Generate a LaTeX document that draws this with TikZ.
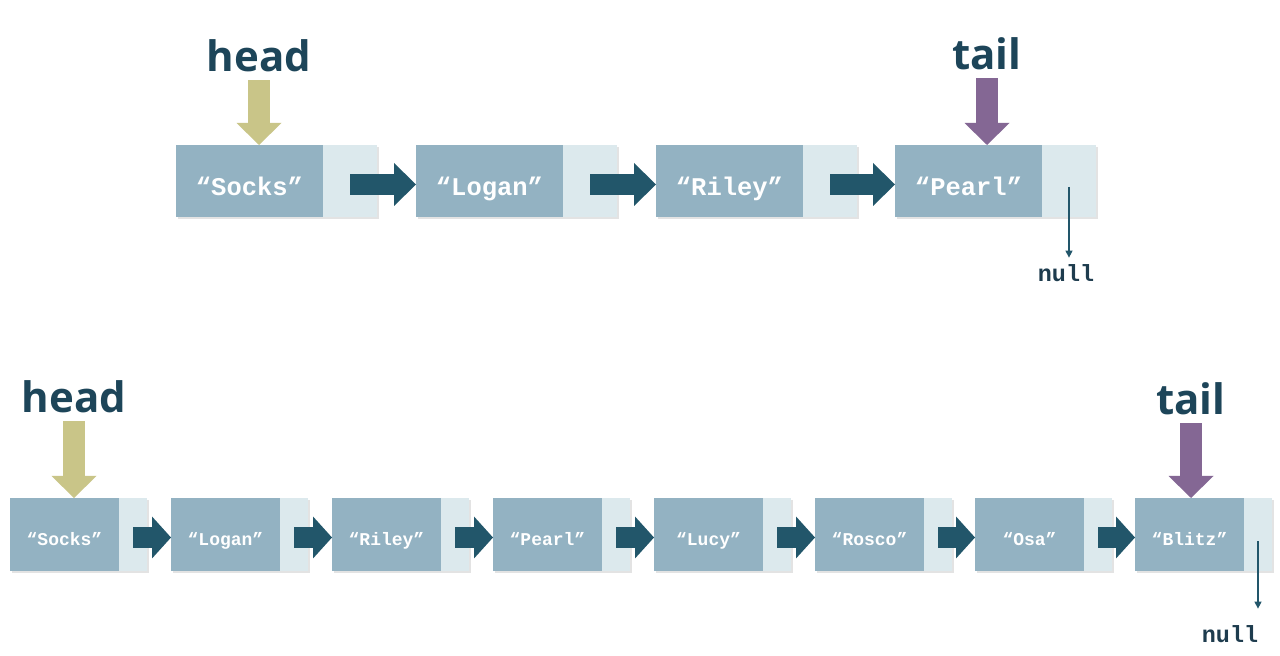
\documentclass[tikz,border=0pt]{standalone}
\usepackage{fontspec}
\newfontfamily\labelfont{Open Sans}
\newfontfamily\codefont{Liberation Mono}
\usetikzlibrary{arrows.meta, shadows}

\definecolor{valblue}{HTML}{93B2C2}
\definecolor{nextblue}{HTML}{DCE9ED}
\definecolor{linkteal}{HTML}{22566A}
\definecolor{headolive}{HTML}{C9C588}
\definecolor{tailpurple}{HTML}{846794}
\definecolor{tagnavy}{HTML}{1D4559}
\definecolor{nullnavy}{HTML}{1E3C4E}

\begin{document}
\begin{tikzpicture}[x=0.5pt, y=-0.5pt,
    boxshadow/.style={drop shadow={shadow xshift=1pt, shadow yshift=-1.2pt, opacity=0.22, fill=black!50}},
    valbox/.style={fill=valblue, inner sep=0pt, outer sep=0pt, anchor=north west, text=white, text depth=0pt, boxshadow},
    nextbox/.style={fill=nextblue, inner sep=0pt, outer sep=0pt, anchor=west, boxshadow},
    bigval/.style={valbox, minimum width=73.5pt, minimum height=36pt, text height=14.5pt, font=\codefont\bfseries\fontsize{12.75}{14}\selectfont},
    bignext/.style={nextbox, minimum width=27pt, minimum height=36pt},
    smallval/.style={valbox, minimum width=54.5pt, minimum height=36.5pt, text height=11pt, font=\codefont\bfseries\fontsize{9}{11}\selectfont},
    smallnext/.style={nextbox, minimum width=14pt, minimum height=36.5pt},
    biglink/.style={draw=linkteal, line width=10.5pt, -{Triangle[width=21.5pt, length=11pt, line width=0pt]}},
    smalllink/.style={draw=linkteal, line width=10.5pt, -{Triangle[width=21pt, length=9.5pt, line width=0pt]}},
    tag/.style={font=\labelfont\bfseries\fontsize{21}{24}\selectfont, text=tagnavy, anchor=base, inner sep=4pt, text depth=0pt},
    headptr/.style={draw=headolive, line width=11pt, -{Triangle[width=22.5pt, length=11pt, line width=0pt]}},
    tailptr/.style={draw=tailpurple, line width=11pt, -{Triangle[width=22.5pt, length=11pt, line width=0pt]}},
    nulltag/.style={font=\codefont\bfseries\fontsize{11.7}{13}\selectfont, text=nullnavy, anchor=base, inner sep=3.5pt, text depth=0pt},
    nullptr/.style={draw=linkteal, line width=0.6pt, -{Triangle[width=3.5pt, length=3.5pt]}}]
    \fill[white] (0,0) rectangle (1280,656);
    \useasboundingbox (0,0) rectangle (1280,656);

    \node[bigval] (a1) at (176,145) {“Socks”};
    \node[bignext] (an1) at (a1.east) {};
    \node[bigval] (a2) at (416,145) {“Logan”};
    \node[bignext] (an2) at (a2.east) {};
    \node[bigval] (a3) at (656,145) {“Riley”};
    \node[bignext] (an3) at (a3.east) {};
    \node[bigval] (a4) at (895,145) {“Pearl”};
    \node[bignext] (an4) at (a4.east) {};
    \draw[biglink] ([yshift=-1.75pt]an1.center) -- ([yshift=-1.75pt]a2.west);
    \draw[biglink] ([yshift=-1.75pt]an2.center) -- ([yshift=-1.75pt]a3.west);
    \draw[biglink] ([yshift=-1.75pt]an3.center) -- ([yshift=-1.75pt]a4.west);
    \node[tag] (ahead) at (259,72) {head};
    \node[tag] (atail) at (987,70) {tail};
    \draw[headptr] (ahead.south) -- (ahead.south |- a1.north);
    \draw[tailptr] (atail.south) -- (atail.south |- a4.north);
    \node[nulltag] (anull) at (1066,282) {null};
    \draw[nullptr] ([yshift=-3pt]an4.center) -- (an4.center |- anull.north);

    \node[smallval] (b1) at (10,498) {“Socks”};
    \node[smallnext] (bn1) at (b1.east) {};
    \node[smallval] (b2) at (171,498) {“Logan”};
    \node[smallnext] (bn2) at (b2.east) {};
    \node[smallval] (b3) at (332,498) {“Riley”};
    \node[smallnext] (bn3) at (b3.east) {};
    \node[smallval] (b4) at (493,498) {“Pearl”};
    \node[smallnext] (bn4) at (b4.east) {};
    \node[smallval] (b5) at (654,498) {“Lucy”};
    \node[smallnext] (bn5) at (b5.east) {};
    \node[smallval] (b6) at (815,498) {“Rosco”};
    \node[smallnext] (bn6) at (b6.east) {};
    \node[smallval] (b7) at (975,498) {“Osa”};
    \node[smallnext] (bn7) at (b7.east) {};
    \node[smallval] (b8) at (1135,498) {“Blitz”};
    \node[smallnext] (bn8) at (b8.east) {};
    \draw[smalllink] ([yshift=-1.5pt]bn1.center) -- ([yshift=-1.5pt]b2.west);
    \draw[smalllink] ([yshift=-1.5pt]bn2.center) -- ([yshift=-1.5pt]b3.west);
    \draw[smalllink] ([yshift=-1.5pt]bn3.center) -- ([yshift=-1.5pt]b4.west);
    \draw[smalllink] ([yshift=-1.5pt]bn4.center) -- ([yshift=-1.5pt]b5.west);
    \draw[smalllink] ([yshift=-1.5pt]bn5.center) -- ([yshift=-1.5pt]b6.west);
    \draw[smalllink] ([yshift=-1.5pt]bn6.center) -- ([yshift=-1.5pt]b7.west);
    \draw[smalllink] ([yshift=-1.5pt]bn7.center) -- ([yshift=-1.5pt]b8.west);
    \node[tag] (bhead) at (74,413) {head};
    \node[tag] (btail) at (1191,415) {tail};
    \draw[headptr] (bhead.south) -- (bhead.south |- b1.north);
    \draw[tailptr] (btail.south) -- (btail.south |- b8.north);
    \node[nulltag] (bnull) at (1230,643) {null};
    \draw[nullptr, shorten >=5pt] ([yshift=-3.5pt]bn8.center) -- (bn8.center |- bnull.north);
\end{tikzpicture}
\end{document}
